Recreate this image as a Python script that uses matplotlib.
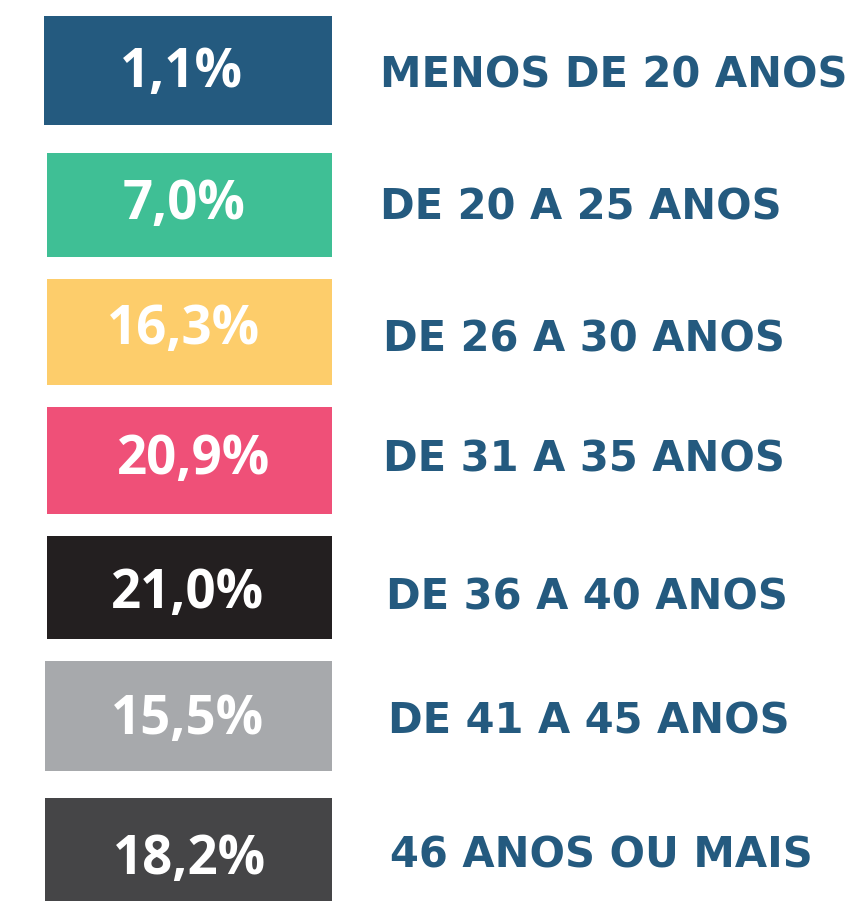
import matplotlib
matplotlib.use("Agg")
from matplotlib import pyplot as plt

# age groups and share of respondents
labels = ["MENOS DE 20 ANOS", "DE 20 A 25 ANOS", "DE 26 A 30 ANOS", "DE 31 A 35 ANOS",
          "DE 36 A 40 ANOS", "DE 41 A 45 ANOS", "46 ANOS OU MAIS"]
values = [1.1, 7.0, 16.3, 20.9, 21.0, 15.5, 18.2]
colors = ["#245a7f", "#3fbf95", "#fdcd6b", "#ef5078", "#231f20", "#a7a9ac", "#454547"]

# layout (pixel units of the canvas)
box_top = [16, 153, 279, 407, 536, 661, 798]
box_bottom = [125, 257, 385, 514, 639, 771, 901]
box_left = [44, 47, 47, 47, 47, 45, 45]
box_right = 332
pct_x = [181, 184, 184, 194, 188, 187, 190]
pct_y = [73, 205, 330, 460, 594, 720, 860]
lab_x = [380, 380, 383, 383, 386, 388, 390]
lab_y = [76, 207, 339, 460, 598, 722, 856]

fig = plt.figure(figsize=(8.61, 9.01), dpi=100)
ax = fig.add_axes([0, 0, 1, 1])
ax.set_xlim(0, 861)
ax.set_ylim(901, 0)
ax.axis("off")

centers = [(t + b) / 2 for t, b in zip(box_top, box_bottom)]
heights = [b - t for t, b in zip(box_top, box_bottom)]
widths = [box_right - l for l in box_left]
ax.barh(centers, widths, left=box_left, height=heights, color=colors)

for i, v in enumerate(values):
    txt = f"{v:.1f}%".replace(".", ",")
    ax.text(pct_x[i], pct_y[i], txt, color="white", fontsize=38, fontweight="bold",
            family="Open Sans", ha="center", va="center")
    ax.text(lab_x[i], lab_y[i], labels[i], color="#245a7f", fontsize=30, fontweight="bold",
            family="DejaVu Sans", ha="left", va="center")

fig.savefig("out.png", dpi=100)
